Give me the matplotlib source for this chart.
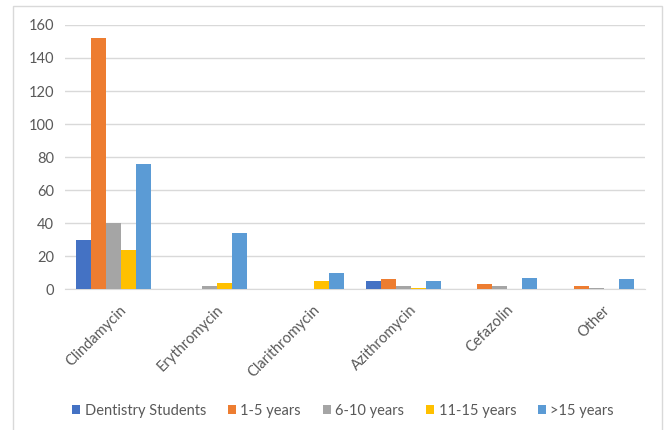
from matplotlib import pyplot
from matplotlib import transforms
import numpy

drugs = ["Clindamycin", "Erythromycin", "Clarithromycin", "Azithromycin", "Cefazolin", "Other"]
groups = ["Dentistry Students", "1-5 years", "6-10 years", "11-15 years", ">15 years"]
students = [30, 0, 0, 5, 0, 0]
yrs_1_5 = [152, 0, 0, 6, 3, 2]
yrs_6_10 = [40, 2, 0, 2, 2, 1]
yrs_11_15 = [24, 4, 5, 1, 0, 0]
yrs_15_plus = [76, 34, 10, 5, 7, 6]
colors = ["#4472C4", "#ED7D31", "#A5A5A5", "#FFC000", "#5B9BD5"]

def main():
    pyplot.rcParams['font.family'] = ['Lato', 'DejaVu Sans']
    fig = pyplot.figure(figsize=(6.67, 4.30), dpi=100)
    ax = fig.add_axes([0.0975, 0.327, 0.869, 0.615])
    series = [students, yrs_1_5, yrs_6_10, yrs_11_15, yrs_15_plus]
    x = numpy.arange(len(drugs))
    w = 0.155
    for i, vals in enumerate(series):
        ax.bar(x + (i - 2) * w, vals, w, color=colors[i], label=groups[i], zorder=3)
    ax.set_xlim(-0.5, len(drugs) - 0.5)
    ax.set_ylim(0, 160)
    ax.set_yticks(range(0, 161, 20))
    ax.grid(axis="y", color="#D9D9D9", linewidth=1, zorder=0)
    for s in ["top", "right", "left"]:
        ax.spines[s].set_visible(False)
    ax.spines["bottom"].set_color("#D9D9D9")
    ax.tick_params(length=0, labelsize=10.5, colors="#595959", pad=8)
    ax.set_xticks(x)
    ax.set_xticklabels(drugs, rotation=45, ha="right", rotation_mode="anchor")
    ax.tick_params(axis="x", pad=4)
    # shift rotated labels a little right and down, like the original
    shift = transforms.ScaledTranslation(6 / 100, -8 / 100, fig.dpi_scale_trans)
    for lab in ax.get_xticklabels():
        lab.set_transform(lab.get_transform() + shift)
    ax.legend(loc="center", bbox_to_anchor=(0.48, -0.46), ncol=5, frameon=False,
              fontsize=10.5, labelcolor="#595959", handlelength=0.55, handleheight=0.55,
              columnspacing=1.5, handletextpad=0.3)
    fig.patches.append(pyplot.Rectangle((13 / 667, -0.05), 649 / 667, 1 - 6 / 430 + 0.05,
                                        transform=fig.transFigure, fill=False,
                                        edgecolor="#D9D9D9", linewidth=1))
    fig.savefig("out.png")

if __name__ == "__main__":
    main()
